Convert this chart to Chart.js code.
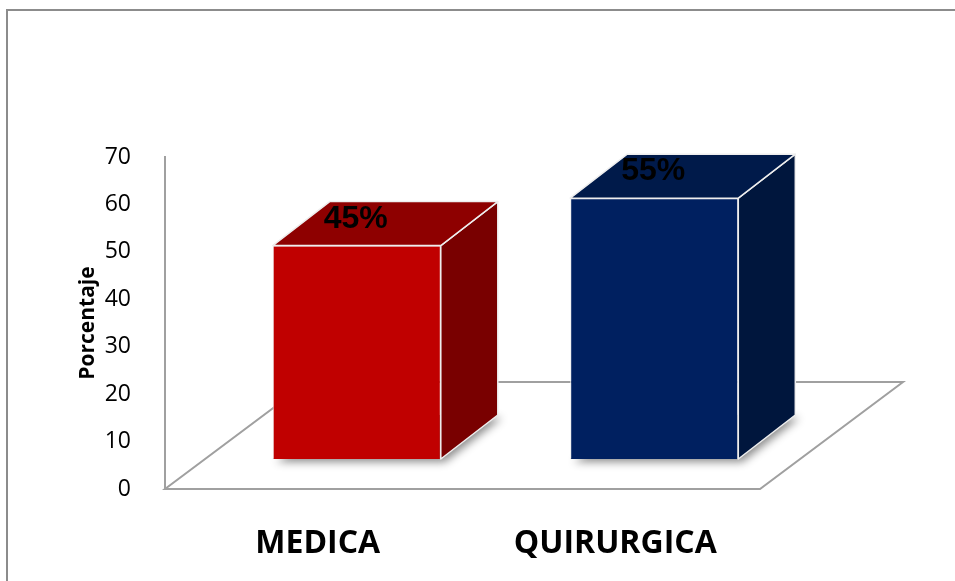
<!DOCTYPE html>
<html>
<head>
<meta charset="utf-8">
<script src="https://cdn.jsdelivr.net/npm/chart.js@4.4.1/dist/chart.umd.min.js"></script>
<style>
    html, body { margin: 0; padding: 0; background: #fff; }
    #grafico { display: block; }
</style>
</head>
<body>
<canvas id="grafico" width="955" height="581"></canvas>
<script>
// Datos del gráfico
const categorias = ['MEDICA', 'QUIRURGICA'];
const valores = [45, 55];
const ticksY = [0, 10, 20, 30, 40, 50, 60, 70];

// Colores de cada cara de las columnas
const colorFrente = ['#c00000', '#002060'];
const colorTapa = ['#8e0000', '#001a4a'];
const colorLado = ['#790000', '#00163d'];

// Perspectiva: desplazamiento del plano de las columnas y profundidad
const PISO = { dx: 143, dy: -107 };
const FRENTE = { dx: 43, dy: -30 };
const FONDO = { dx: 57, dy: -44 };

function poligono(ctx, puntos) {
    ctx.beginPath();
    ctx.moveTo(puntos[0][0], puntos[0][1]);
    for (let i = 1; i < puntos.length; i++) ctx.lineTo(puntos[i][0], puntos[i][1]);
    ctx.closePath();
}

// Marco exterior
const marco = {
    id: 'marco',
    beforeDraw(chart) {
        const ctx = chart.ctx;
        ctx.save();
        ctx.strokeStyle = '#8c8c8c';
        ctx.lineWidth = 2;
        ctx.strokeRect(7, 10, 1000, 1000);
        ctx.restore();
    }
};

// Piso, caras laterales y etiquetas de las columnas 3D
const columnas3d = {
    id: 'columnas3d',
    beforeDatasetsDraw(chart) {
        const ctx = chart.ctx;
        const a = chart.chartArea;
        ctx.save();
        ctx.strokeStyle = '#a0a0a0';
        ctx.lineWidth = 2;
        poligono(ctx, [
            [a.left, a.bottom],
            [a.right, a.bottom],
            [a.right + PISO.dx, a.bottom + PISO.dy],
            [a.left + PISO.dx, a.bottom + PISO.dy]
        ]);
        ctx.stroke();
        ctx.restore();

        // sombra bajo cada columna
        ctx.save();
        ctx.translate(FRENTE.dx, FRENTE.dy);
        chart.getDatasetMeta(0).data.forEach(bar => {
            const l = bar.x - bar.width / 2, r = bar.x + bar.width / 2, b = bar.base;
            ctx.save();
            ctx.shadowColor = 'rgba(0,0,0,0.45)';
            ctx.shadowBlur = 8;
            ctx.shadowOffsetX = 4;
            ctx.shadowOffsetY = 3;
            ctx.fillStyle = '#777';
            poligono(ctx, [[l, b], [r, b], [r + FONDO.dx, b + FONDO.dy], [l + FONDO.dx, b + FONDO.dy]]);
            ctx.fill();
            ctx.restore();
        });
        // las columnas se dibujan en el plano desplazado
        ctx.save();
    },
    afterDatasetsDraw(chart) {
        const ctx = chart.ctx;
        chart.getDatasetMeta(0).data.forEach((bar, i) => {
            const l = bar.x - bar.width / 2, r = bar.x + bar.width / 2;
            const t = bar.y, b = bar.base;
            ctx.lineWidth = 1.5;
            ctx.strokeStyle = '#eeeeee';
            ctx.lineJoin = 'round';

            ctx.fillStyle = colorLado[i];
            poligono(ctx, [[r, t], [r + FONDO.dx, t + FONDO.dy], [r + FONDO.dx, b + FONDO.dy], [r, b]]);
            ctx.fill();
            ctx.stroke();

            ctx.fillStyle = colorTapa[i];
            poligono(ctx, [[l, t], [r, t], [r + FONDO.dx, t + FONDO.dy], [l + FONDO.dx, t + FONDO.dy]]);
            ctx.fill();
            ctx.stroke();

            ctx.fillStyle = '#000';
            ctx.font = 'bold 32px "Liberation Sans", Arial, sans-serif';
            ctx.textAlign = 'center';
            ctx.textBaseline = 'alphabetic';
            ctx.fillText(valores[i] + '%', bar.x - 1, t - 18);
        });
        ctx.restore();
        ctx.restore();
    }
};

const ctx = document.getElementById('grafico').getContext('2d');
const grafico = new Chart(ctx, {
    type: 'bar',
    data: {
        labels: categorias,
        datasets: [{
            data: valores,
            backgroundColor: colorFrente,
            borderColor: '#eeeeee',
            borderWidth: 1,
            barPercentage: 0.565,
            categoryPercentage: 1
        }]
    },
    options: {
        responsive: false,
        animation: false,
        layout: {
            padding: { left: 75, top: 157, right: 195, bottom: 0 }
        },
        plugins: {
            legend: { display: false },
            tooltip: { enabled: false }
        },
        scales: {
            x: {
                grid: { display: false },
                border: { display: false },
                ticks: {
                    color: '#000',
                    padding: 28,
                    labelOffset: 4,
                    font: { family: '"Open Sans", sans-serif', size: 32, weight: 'bold' }
                },
                afterFit: s => { s.height = 92; }
            },
            y: {
                min: ticksY[0],
                max: ticksY[ticksY.length - 1],
                grid: { display: false },
                border: { display: true, color: '#a0a0a0', width: 2 },
                ticks: {
                    stepSize: ticksY[1] - ticksY[0],
                    color: '#000',
                    padding: 26,
                    font: { family: '"Open Sans", sans-serif', size: 23 }
                },
                title: {
                    display: true,
                    text: 'Porcentaje',
                    color: '#000',
                    padding: 0,
                    font: { family: '"Open Sans", sans-serif', size: 21, weight: 'bold' }
                },
                afterFit: s => { s.width = 90; }
            }
        }
    },
    plugins: [marco, columnas3d]
});
</script>
</body>
</html>
